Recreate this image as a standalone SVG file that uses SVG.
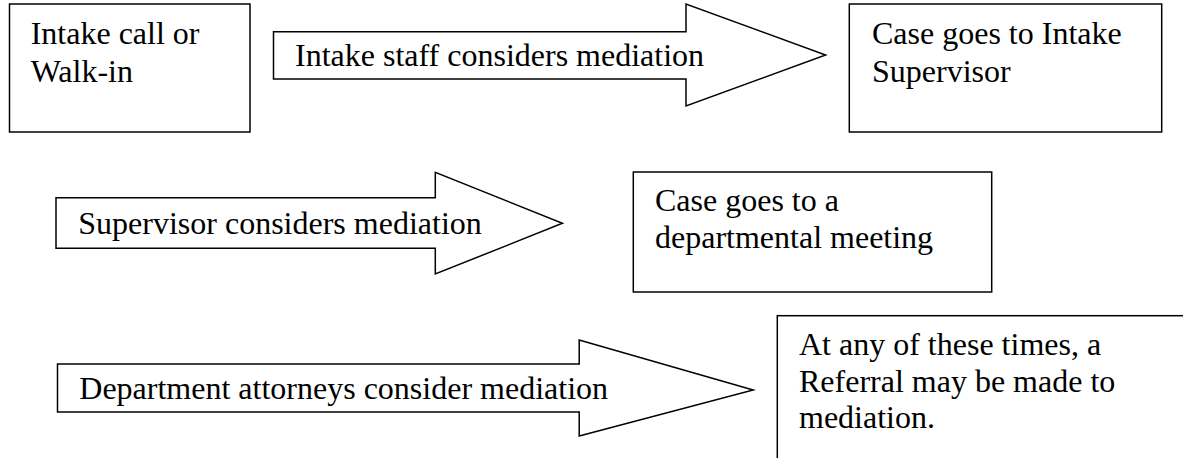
<svg xmlns="http://www.w3.org/2000/svg" width="1183" height="458" viewBox="0 0 1183 458">
<style>
.box{fill:#fff;stroke:#000;stroke-width:1.5}
.arr{fill:#fff;stroke:#000;stroke-width:1.5;stroke-linejoin:miter}
.t{font-family:'Liberation Serif','DejaVu Serif',serif;font-size:32px;fill:#000}
</style>
<rect width="1183" height="458" fill="#fff"/>
<g id="connectors">
<g id="arrow1">
<polygon class="arr" points="273.5,31.7 686,31.7 686,4 825.6,55 686,106 686,79 273.5,79"/>
<text class="t" font-family="Liberation Serif, DejaVu Serif, serif" x="295" y="66">Intake staff considers mediation</text>
</g>
<g id="arrow2">
<polygon class="arr" points="56,197.7 435.3,197.7 435.3,172.3 562.4,223.3 435.3,274 435.3,248.3 56,248.3"/>
<text class="t" font-family="Liberation Serif, DejaVu Serif, serif" x="78.3" y="233.5">Supervisor considers mediation</text>
</g>
<g id="arrow3">
<polygon class="arr" points="57.5,364 579.2,364 579.2,340 753.2,390 579.2,436 579.2,412 57.5,412"/>
<text class="t" font-family="Liberation Serif, DejaVu Serif, serif" x="79.3" y="399">Department attorneys consider mediation</text>
</g>
</g>
<g id="node-intake">
<rect class="box" x="9.5" y="4" width="240.5" height="128"/>
<text class="t" font-family="Liberation Serif, DejaVu Serif, serif" x="30.7" y="44.3">Intake call or</text>
<text class="t" font-family="Liberation Serif, DejaVu Serif, serif" x="30.7" y="82">Walk-in</text>
</g>
<g id="node-supervisor">
<rect class="box" x="849.3" y="4" width="312.4" height="128"/>
<text class="t" font-family="Liberation Serif, DejaVu Serif, serif" x="872" y="44.3">Case goes to Intake</text>
<text class="t" font-family="Liberation Serif, DejaVu Serif, serif" x="872" y="81.7">Supervisor</text>
</g>
<g id="node-departmental">
<rect class="box" x="633.3" y="172" width="358.4" height="120"/>
<text class="t" font-family="Liberation Serif, DejaVu Serif, serif" x="655" y="211">Case goes to a</text>
<text class="t" font-family="Liberation Serif, DejaVu Serif, serif" x="655" y="248.3">departmental meeting</text>
</g>
<g id="node-referral">
<rect class="box" x="777.3" y="315.7" width="420" height="160"/>
<text class="t" font-family="Liberation Serif, DejaVu Serif, serif" x="799" y="355">At any of these times, a</text>
<text class="t" font-family="Liberation Serif, DejaVu Serif, serif" x="799" y="391.7">Referral may be made to</text>
<text class="t" font-family="Liberation Serif, DejaVu Serif, serif" x="799" y="428.3">mediation.</text>
</g>
</svg>
